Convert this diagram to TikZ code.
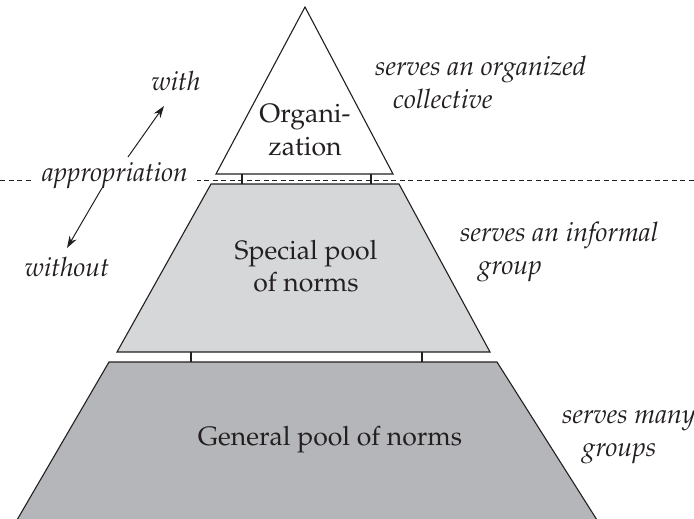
\documentclass[tikz,border=0pt]{standalone}
\usepackage[T1]{fontenc}
\usepackage{mathpazo}
\usetikzlibrary{arrows.meta}
\definecolor{lightpool}{RGB}{214,215,217}
\definecolor{darkpool}{RGB}{181,182,185}
\definecolor{ink}{RGB}{35,31,32}
\begin{document}
\begin{tikzpicture}[x=1pt,y=-1pt,
  lbl/.style={font=\fontsize{26.6}{32.5}\selectfont, align=center, text=ink, inner sep=0pt},
  side/.style={font=\fontsize{26.8}{33}\selectfont\itshape, align=left, anchor=west, text=ink, inner sep=0pt},
  dirlbl/.style={font=\fontsize{26.6}{32}\selectfont\itshape, text=ink, inner sep=0pt},
  shapeline/.style={draw=ink, line width=1.1pt, line join=miter},
  link/.style={draw=ink, line width=1.1pt},
  dirarrow/.style={draw=ink, line width=1pt, -{Stealth[length=12pt,width=8pt]}},
  divider/.style={draw=ink, line width=0.9pt, dash pattern=on 5pt off 3.5pt}]
\useasboundingbox (0,0) rectangle (694,519);
% dashed divider
\coordinate (dl) at (0,180);
\coordinate (dr) at (694,180);
\draw[divider] (dl) -- (dr);
% pyramid levels
\draw[shapeline, fill=darkpool] (109,362) coordinate (gtl) -- (497,362) coordinate (gtr)
  -- (597,520) coordinate (gbr) -- (17,520) coordinate (gbl) -- cycle;
\draw[shapeline, fill=lightpool] (211,184) coordinate (stl) -- (399,184) coordinate (str)
  -- (490,352) coordinate (sbr) -- (117,352) coordinate (sbl) -- cycle;
\draw[shapeline, fill=white] (305,7) coordinate (otop) -- (393,174) coordinate (obr)
  -- (216,174) coordinate (obl) -- cycle;
% links between levels
\coordinate (l1a) at (242,174); \coordinate (l1b) at (242,184);
\coordinate (l2a) at (371,174); \coordinate (l2b) at (371,184);
\coordinate (l3a) at (191,352); \coordinate (l3b) at (191,362);
\coordinate (l4a) at (422,352); \coordinate (l4b) at (422,362);
\draw[link] (l1a) -- (l1b);
\draw[link] (l2a) -- (l2b);
\draw[link] (l3a) -- (l3b);
\draw[link] (l4a) -- (l4b);
% level texts
\node[lbl] (org) at (305,130) {Organi-\\zation};
\node[lbl] (spec) at (306,266) {Special pool\\of norms};
\node[lbl] (gen) at (330,440) {General pool of norms};
% side texts
\node[side] (s1) at (375,82) {serves an organized\\\hspace*{18pt}collective};
\node[side] (s2) at (460,252) {serves an informal\\\hspace*{18pt}group};
\node[side] (s3) at (562,437) {serves many\\\hspace*{20pt}groups};
% appropriation
\node[dirlbl, fill=white, inner xsep=9pt, inner ysep=2pt] (appr) at (115,176) {appropriation};
\node[dirlbl] (with) at (176,81) {with};
\node[dirlbl] (without) at (67,267) {without};
\coordinate (upa) at (128,157); \coordinate (upb) at (164,106);
\coordinate (dna) at (102,188); \coordinate (dnb) at (67,248);
\draw[dirarrow] (upa) -- (upb);
\draw[dirarrow] (dna) -- (dnb);
\end{tikzpicture}
\end{document}
